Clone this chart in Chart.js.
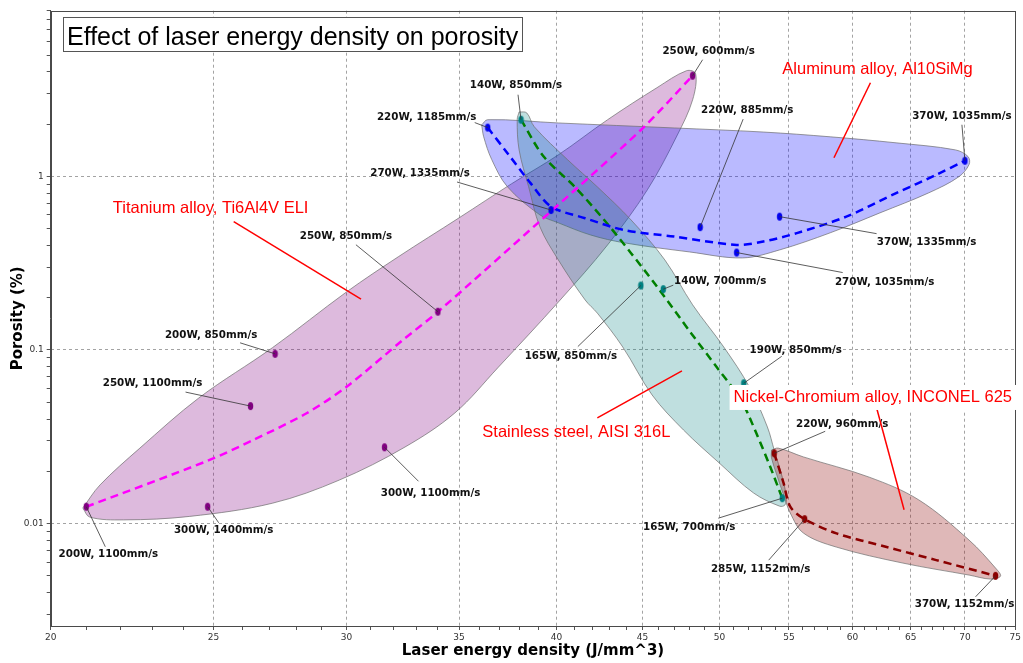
<!DOCTYPE html>
<html>
<head>
<meta charset="utf-8">
<title>Effect of laser energy density on porosity</title>
<script src="https://cdn.jsdelivr.net/npm/chart.js@4.4.1/dist/chart.umd.min.js"></script>
<style>
  html, body { margin: 0; padding: 0; background: #fff; }
  canvas { display: block; }
</style>
</head>
<body>
<canvas id="porosityChart" width="1023" height="663"></canvas>
<script>
// axis tick labels
const xTicks = [20, 25, 30, 35, 40, 45, 50, 55, 60, 65, 70, 75];
const yTicks = [0.01, 0.1, 1];

// Titanium alloy, Ti6Al4V ELI
const tiLabels = ['200W, 1100mm/s', '300W, 1400mm/s', '250W, 1100mm/s', '200W, 850mm/s', '300W, 1100mm/s', '250W, 850mm/s', '250W, 600mm/s'];
const tiEnergy = [21.0, 24.8, 26.3, 27.2, 31.6, 34.0, 48.2];
const tiPorosity = [0.0125, 0.0125, 0.0475, 0.095, 0.0275, 0.166, 3.8];
const tiTrendEnergy = [21.0, 24.8, 26.4, 28.4, 30.0, 32.4, 34.0, 39.0, 44.9, 48.2];
const tiTrendPorosity = [0.0125, 0.023, 0.0303, 0.0432, 0.0614, 0.114, 0.166, 0.54, 1.85, 3.8];
const tiHullEnergy = [20.9, 21.4, 22.6, 24.5, 27.1, 30.0, 32.2, 35.0, 37.6, 40.1, 42.9, 45.9, 47.8, 48.4, 48.2, 47.2, 45.3, 42.9, 40.2, 36.9, 34.8, 32.5, 29.7, 27.1, 24.2, 22.1, 21.1, 20.9];
const tiHullPorosity = [0.0123, 0.0167, 0.0272, 0.0529, 0.103, 0.216, 0.344, 0.577, 0.905, 1.33, 2.12, 3.24, 4.06, 3.90, 2.76, 1.73, 0.836, 0.403, 0.194, 0.0788, 0.0434, 0.0276, 0.0178, 0.0131, 0.0110, 0.0105, 0.0109, 0.0123];

// Aluminum alloy, Al10SiMg
const alLabels = ['220W, 1185mm/s', '270W, 1335mm/s', '220W, 885mm/s', '270W, 1035mm/s', '370W, 1335mm/s', '370W, 1035mm/s'];
const alEnergy = [36.4, 39.7, 48.7, 51.2, 54.3, 70.0];
const alPorosity = [1.91, 0.64, 0.51, 0.364, 0.586, 1.23];
const alTrendEnergy = [36.4, 37.4, 38.6, 39.7, 41.6, 43.9, 47.0, 51.2, 53.1, 55.6, 59.5, 63.7, 67.3, 70.0];
const alTrendPorosity = [1.91, 1.36, 0.914, 0.67, 0.574, 0.49, 0.45, 0.403, 0.421, 0.471, 0.586, 0.80, 1.02, 1.23];
const alHullEnergy = [36.1, 36.4, 40.1, 47.0, 53.1, 58.2, 63.7, 69.1, 70.3, 70.4, 69.4, 66.6, 62.3, 58.2, 54.3, 51.6, 48.0, 43.9, 41.9, 40.1, 39.1, 37.4, 36.6, 36.2, 36.1];
const alHullPorosity = [1.98, 2.12, 2.03, 1.90, 1.80, 1.69, 1.56, 1.42, 1.30, 1.17, 0.993, 0.803, 0.616, 0.473, 0.377, 0.339, 0.367, 0.414, 0.460, 0.540, 0.600, 0.870, 1.25, 1.69, 1.98];

// Stainless steel, AISI 316L
const ssLabels = ['140W, 850mm/s', '165W, 850mm/s', '140W, 700mm/s', '190W, 850mm/s', '165W, 700mm/s'];
const ssEnergy = [38.1, 44.9, 46.3, 51.7, 54.5];
const ssPorosity = [2.12, 0.235, 0.224, 0.0643, 0.014];
const ssTrendEnergy = [38.1, 39.3, 41.0, 42.7, 44.3, 45.9, 48.1, 49.8, 51.5, 52.6, 53.6, 54.5];
const ssTrendPorosity = [2.12, 1.30, 0.873, 0.561, 0.361, 0.232, 0.125, 0.080, 0.0515, 0.0331, 0.0213, 0.014];
const ssHullEnergy = [38.0, 38.4, 38.8, 40.6, 42.3, 44.3, 46.4, 48.2, 50.3, 52.1, 53.4, 53.9, 54.5, 54.8, 54.7, 54.3, 52.4, 50.0, 47.6, 45.6, 43.8, 42.3, 41.6, 40.1, 39.1, 38.5, 38.0, 37.9, 38.0];
const ssHullPorosity = [2.35, 2.32, 1.93, 1.25, 0.870, 0.561, 0.330, 0.182, 0.104, 0.0612, 0.0360, 0.0265, 0.0185, 0.0142, 0.0128, 0.0126, 0.0150, 0.0223, 0.0346, 0.0550, 0.104, 0.163, 0.194, 0.330, 0.512, 0.870, 1.42, 2.12, 2.35];

// Nickel-Chromium alloy, INCONEL 625
const niLabels = ['220W, 960mm/s', '285W, 1152mm/s', '370W, 1152mm/s'];
const niEnergy = [53.9, 56.2, 73.0];
const niPorosity = [0.0254, 0.0106, 0.0050];
const niTrendEnergy = [53.9, 54.6, 55.1, 56.2, 58.7, 62.8, 67.3, 73.0];
const niTrendPorosity = [0.0254, 0.0171, 0.0125, 0.0106, 0.00878, 0.00735, 0.00616, 0.0050];
const niHullEnergy = [53.7, 54.2, 56.1, 61.4, 65.7, 70.4, 73.0, 73.5, 72.5, 70.4, 64.3, 58.7, 56.1, 55.1, 54.6, 54.1, 53.7, 53.7];
const niHullPorosity = [0.0265, 0.0272, 0.0242, 0.0185, 0.0137, 0.00803, 0.00554, 0.00498, 0.00479, 0.00505, 0.00592, 0.00732, 0.00882, 0.0115, 0.0146, 0.0190, 0.0239, 0.0265];

// where each point label sits: [text dx, text dy, leader dx, leader dy] in px from the point
const tiLabelPos = [[22, 48, 19, 40], [16, 24, 11, 16], [-98, -23, -65, -14], [-64, -19, -35, -11], [46, 46, 34, 34], [-92, -75, -82, -67], [16, -24, 10, -16]];
const alLabelPos = [[-61, -10, -13, -5], [-131, -37, -94, -28], [47, -117, 43, -108], [148, 30, 106, 20], [147, 26, 97, 17], [-3, -44, -3, -36]];
const ssLabelPos = [[-5, -34, -3, -25], [-70, 71, -63, 61], [57, -8, 10, -4], [52, -33, 38, -27], [-93, 29, -64, 20]];
const niLabelPos = [[68, -29, 51, -22], [-44, 50, -36, 41], [-31, 28, -20, 21]];

// red material captions, placed in data space
const materialNotes = [
  { text: 'Titanium alloy, Ti6Al4V ELI', at: [24.9, 0.65], from: [25.7, 0.549], to: [30.6, 0.196] },
  { text: 'Aluminum alloy, Al10SiMg', at: [62.1, 4.11], from: [61.5, 3.46], to: [58.5, 1.28] },
  { text: 'Stainless steel, AISI 316L', at: [41.1, 0.0337], from: [42.3, 0.0406], to: [47.5, 0.0757] },
  { text: 'Nickel-Chromium alloy, INCONEL 625', at: [61.7, 0.0536], from: [62.0, 0.0469], to: [64.4, 0.0120], box: true }
];

const pts = (xs, ys) => xs.map((x, i) => ({ x: x, y: ys[i] }));

function oval(color) {
  const c = document.createElement('canvas');
  c.width = 7; c.height = 10;
  const g = c.getContext('2d');
  g.fillStyle = color;
  g.beginPath();
  g.ellipse(3.5, 5, 2.7, 4, 0, 0, Math.PI * 2);
  g.fill();
  return c;
}

const series = [
  { energy: tiEnergy, porosity: tiPorosity, labels: tiLabels, layout: tiLabelPos },
  { energy: alEnergy, porosity: alPorosity, labels: alLabels, layout: alLabelPos },
  { energy: ssEnergy, porosity: ssPorosity, labels: ssLabels, layout: ssLabelPos },
  { energy: niEnergy, porosity: niPorosity, labels: niLabels, layout: niLabelPos }
];

function hull(xs, ys, fillColor, order) {
  return {
    type: 'line', data: pts(xs, ys), fill: 'shape',
    backgroundColor: fillColor, borderColor: 'rgba(110,110,110,0.7)', borderWidth: 1,
    pointRadius: 0, tension: 0.35, order: order
  };
}
function trend(xs, ys, color) {
  return {
    type: 'line', data: pts(xs, ys), fill: false,
    borderColor: color, borderWidth: 2.5, borderDash: [8, 5],
    pointRadius: 0, tension: 0.3, order: 5
  };
}
function marks(xs, ys, color) {
  return {
    type: 'scatter', data: pts(xs, ys),
    pointStyle: oval(color), pointRadius: 4, order: 1
  };
}

const isMajorY = v => yTicks.some(t => Math.abs(t - v) / t < 1e-6);

const notes = {
  id: 'notes',
  afterDatasetsDraw(chart) {
    const { ctx, chartArea: a, scales: { x, y } } = chart;
    ctx.save();

    // frame
    ctx.strokeStyle = '#4a4a4a';
    ctx.lineWidth = 1;
    ctx.strokeRect(Math.round(a.left) + 0.5, Math.round(a.top) + 0.5,
      Math.round(a.right - a.left) - 1, Math.round(a.bottom - a.top));

    // point labels and leaders
    ctx.font = 'bold 10.3px "DejaVu Sans"';
    ctx.textAlign = 'center';
    ctx.textBaseline = 'middle';
    series.forEach(s => {
      s.energy.forEach((e, i) => {
        const px = x.getPixelForValue(e);
        const py = y.getPixelForValue(s.porosity[i]);
        const [tx, ty, lx, ly] = s.layout[i];
        ctx.strokeStyle = '#333';
        ctx.lineWidth = 0.8;
        ctx.beginPath();
        ctx.moveTo(px, py);
        ctx.lineTo(px + lx, py + ly);
        ctx.stroke();
        ctx.fillStyle = '#111';
        ctx.fillText(s.labels[i], px + tx, py + ty);
      });
    });

    // material captions
    ctx.font = '16.5px "Liberation Sans"';
    materialNotes.forEach(n => {
      ctx.strokeStyle = '#ff0000';
      ctx.lineWidth = 1.5;
      ctx.beginPath();
      ctx.moveTo(x.getPixelForValue(n.from[0]), y.getPixelForValue(n.from[1]));
      ctx.lineTo(x.getPixelForValue(n.to[0]), y.getPixelForValue(n.to[1]));
      ctx.stroke();
    });
    materialNotes.forEach(n => {
      const cx = x.getPixelForValue(n.at[0]);
      const cy = y.getPixelForValue(n.at[1]);
      if (n.box) {
        const w = ctx.measureText(n.text).width;
        ctx.fillStyle = '#fff';
        ctx.fillRect(cx - w / 2 - 4, cy - 12, w + 8, 25);
      }
      ctx.fillStyle = '#ff0000';
      ctx.fillText(n.text, cx, cy);
    });

    // chart title box
    const bx = Math.round(a.left) + 12.5, by = Math.round(a.top) + 6.5;
    ctx.fillStyle = '#fff';
    ctx.fillRect(bx, by, 459, 34);
    ctx.strokeStyle = '#555';
    ctx.lineWidth = 1;
    ctx.strokeRect(bx, by, 459, 34);
    ctx.fillStyle = '#000';
    ctx.textAlign = 'left';
    ctx.textBaseline = 'alphabetic';
    ctx.font = '25px "Liberation Sans"';
    ctx.fillText('Effect of laser energy density on porosity', bx + 3.5, by + 27);

    ctx.restore();
  },
  afterDraw(chart) {
    const { ctx, chartArea: a } = chart;
    ctx.save();
    ctx.fillStyle = '#000';
    ctx.font = 'bold 15px "DejaVu Sans"';
    ctx.textAlign = 'center';
    ctx.textBaseline = 'middle';
    ctx.fillText('Laser energy density (J/mm^3)', (a.left + a.right) / 2, 651);
    ctx.translate(18, (a.top + a.bottom) / 2);
    ctx.rotate(-Math.PI / 2);
    ctx.fillText('Porosity (%)', 0, 0);
    ctx.restore();
  }
};

const ctx = document.getElementById('porosityChart').getContext('2d');
const porosityChart = new Chart(ctx, {
  type: 'scatter',
  data: {
    datasets: [
      hull(niHullEnergy, niHullPorosity, 'rgba(150,20,20,0.3)', 20),
      hull(ssHullEnergy, ssHullPorosity, 'rgba(0,128,128,0.25)', 21),
      hull(alHullEnergy, alHullPorosity, 'rgba(0,0,255,0.27)', 22),
      hull(tiHullEnergy, tiHullPorosity, 'rgba(128,0,128,0.27)', 23),
      trend(tiTrendEnergy, tiTrendPorosity, '#ff00ff'),
      trend(alTrendEnergy, alTrendPorosity, '#0000ff'),
      trend(ssTrendEnergy, ssTrendPorosity, '#008000'),
      trend(niTrendEnergy, niTrendPorosity, '#8b0000'),
      marks(tiEnergy, tiPorosity, '#800080'),
      marks(alEnergy, alPorosity, '#0000ee'),
      marks(ssEnergy, ssPorosity, '#008080'),
      marks(niEnergy, niPorosity, '#8b0000')
    ]
  },
  options: {
    responsive: false,
    animation: false,
    layout: { autoPadding: false, padding: { top: 10.7, right: 4, left: 0, bottom: 0 } },
    plugins: { legend: { display: false }, tooltip: { enabled: false } },
    scales: {
      x: {
        type: 'logarithmic', min: 20, max: 75,
        afterBuildTicks: axis => {
          const t = [];
          for (let v = 20; v <= 75; v++) t.push({ value: v });
          axis.ticks = t;
        },
        afterFit: axis => { axis.height = 37; },
        ticks: {
          autoSkip: false, maxRotation: 0, padding: 2,
          color: '#333', font: { family: 'DejaVu Sans', size: 9 },
          callback: v => xTicks.includes(v) ? String(v) : ''
        },
        grid: {
          color: c => (c.tick && xTicks.includes(c.tick.value) && c.tick.value !== 20 && c.tick.value !== 75) ? '#a3a3a3' : 'rgba(0,0,0,0)',
          tickColor: '#555', tickLength: 4, lineWidth: 1
        },
        border: { color: '#4a4a4a', dash: [3, 3] }
      },
      y: {
        type: 'logarithmic', min: 0.00257, max: 9,
        afterBuildTicks: axis => {
          const t = [];
          for (let e = -3; e <= 0; e++) {
            for (let m = 1; m <= 9; m++) {
              const v = Number((m * Math.pow(10, e)).toPrecision(6));
              if (v >= axis.min && v <= axis.max) t.push({ value: v });
            }
          }
          axis.ticks = t;
        },
        afterFit: axis => { axis.width = 50.7; },
        ticks: {
          autoSkip: false, padding: 3,
          color: '#333', font: { family: 'DejaVu Sans', size: 9 },
          callback: v => isMajorY(v) ? String(v) : ''
        },
        grid: {
          color: c => (c.tick && isMajorY(c.tick.value)) ? '#a3a3a3' : 'rgba(0,0,0,0)',
          tickColor: '#555', tickLength: 4, lineWidth: 1
        },
        border: { color: '#4a4a4a', dash: [3, 3] }
      }
    }
  },
  plugins: [notes]
});
</script>
</body>
</html>
